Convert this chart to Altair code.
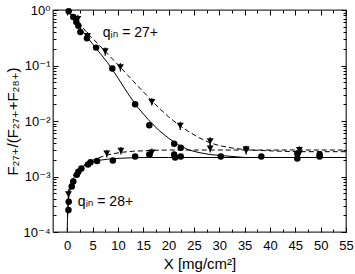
import altair as alt
import pandas as pd

# ---------------- data ----------------
# q_in = 27+ : filled circles (solid-line fit) and triangles (dashed-line fit)
c27_x = [0.3, 1.2, 1.8, 2.2, 2.6, 3.9, 5.7, 8.9, 13.4, 16.2, 21.1, 22.4, 30.3, 45.4, 49.8]
c27_y = [0.95, 0.75, 0.61, 0.52, 0.40, 0.31, 0.21, 0.088, 0.020, 0.0084, 0.0039, 0.0033, 0.0023, 0.0026, 0.0025]

t27_x = [2.1, 4.0, 7.5, 10.5, 16.7, 22.3, 28.2, 35.3, 45.8]
t27_y = [0.69, 0.34, 0.18, 0.093, 0.022, 0.0082, 0.0043, 0.0031, 0.0030]
t27_lo = [0.58, 0.29, 0.15, 0.078, 0.019, 0.0069, 0.0036, 0.0027, 0.0026]
t27_hi = [0.82, 0.40, 0.21, 0.110, 0.026, 0.0097, 0.0051, 0.0036, 0.0035]

# q_in = 28+
c28_x = [0.25, 0.3, 0.9, 1.2, 1.9, 2.2, 2.8, 4.1, 4.6, 5.9, 9.0, 13.4, 16.2, 21.1, 21.3, 22.4, 38.3, 45.4, 49.8]
c28_y = [2.5e-4, 3.5e-4, 6.6e-4, 8.1e-4, 1.07e-3, 1.22e-3, 1.4e-3, 1.65e-3, 1.8e-3, 1.9e-3,
         1.95e-3, 2.3e-3, 2.5e-3, 2.5e-3, 2.2e-3, 2.3e-3, 2.3e-3, 2.1e-3, 2.3e-3]

t28_x = [0.25, 7.8, 10.6, 16.7, 28.2, 35.3, 45.8]
t28_y = [4.8e-4, 2.6e-3, 2.9e-3, 2.7e-3, 3.2e-3, 2.9e-3, 2.6e-3]
t28_lo = [4.0e-4, 2.2e-3, 2.5e-3, 2.3e-3, 2.7e-3, 2.5e-3, 2.2e-3]
t28_hi = [5.8e-4, 3.0e-3, 3.4e-3, 3.2e-3, 3.8e-3, 3.4e-3, 3.1e-3]

# fit curves
s27_x = [0, 1, 2, 3, 4, 5, 6.5, 8, 10, 12, 14, 16, 18, 20, 22, 24, 26, 28, 30, 35, 40, 55]
s27_y = [1.0, 0.76, 0.56, 0.42, 0.32, 0.245, 0.165, 0.112, 0.060, 0.031, 0.0172, 0.0106, 0.0069,
         0.0049, 0.0037, 0.0030, 0.0027, 0.0025, 0.0024, 0.0022, 0.0022, 0.0022]

d27_x = [0, 2, 4, 6, 8, 10, 12, 14, 16, 18, 20, 22, 24, 26, 28, 30, 33, 36, 40, 45, 55]
d27_y = [1.0, 0.64, 0.38, 0.25, 0.16, 0.104, 0.066, 0.042, 0.027, 0.0175, 0.0119, 0.0085, 0.0064,
         0.0050, 0.0041, 0.0036, 0.0032, 0.0030, 0.0029, 0.0028, 0.0028]

s28_x = [0.0, 0.05, 0.1, 0.2, 0.4, 0.7, 1.0, 1.5, 2.0, 2.5, 3.0, 4.0, 5.0, 6.5, 8.0, 10, 13, 16, 20, 55]
s28_y = [1.0e-4, 1.6e-4, 2.4e-4, 3.6e-4, 4.9e-4, 6.5e-4, 8.0e-4, 1.05e-3, 1.25e-3, 1.4e-3, 1.5e-3,
         1.7e-3, 1.83e-3, 1.97e-3, 2.05e-3, 2.12e-3, 2.18e-3, 2.2e-3, 2.2e-3, 2.2e-3]

d28_x = [0.1, 0.25, 0.6, 1.0, 1.6, 2.5, 4.0, 6.0, 8.0, 10.5, 13, 16.5, 20, 25, 55]
d28_y = [2.0e-4, 4.8e-4, 7.5e-4, 9.5e-4, 1.18e-3, 1.45e-3, 1.78e-3, 2.15e-3, 2.45e-3, 2.72e-3,
         2.85e-3, 2.95e-3, 3.0e-3, 3.0e-3, 3.0e-3]

ann_x = [7.0, 2.1]
ann_y = [0.39, 3.5e-4]
ann_t = ["qᵢₙ = 27+", "qᵢₙ = 28+"]

x_major = [0, 5, 10, 15, 20, 25, 30, 35, 40, 45, 50, 55]
x_minor = [2.5, 7.5, 12.5, 17.5, 22.5, 27.5, 32.5, 37.5, 42.5, 47.5, 52.5]
y_major = [1e-4, 1e-3, 1e-2, 1e-1, 1.0]
y_minor = [k * 10.0 ** e for e in (-4, -3, -2, -1) for k in range(2, 10)]

FONT = "Liberation Sans, Arial, DejaVu Sans, sans-serif"
W, H = 293, 222

xs = alt.Scale(domain=[-2.8, 55], nice=False, zero=False)
ys = alt.Scale(type="log", domain=[1e-4, 1], nice=False)


def enc_xy(xa=None, ya=None):
    return dict(x=alt.X("x:Q", scale=xs, axis=xa), y=alt.Y("y:Q", scale=ys, axis=ya))


def line(xv, yv, dash=None):
    df = pd.DataFrame({"x": xv, "y": yv})
    kw = dict(color="black", strokeWidth=1)
    if dash:
        kw["strokeDash"] = dash
    return alt.Chart(df).mark_line(**kw).encode(**enc_xy())


def pts(xv, yv, shape, size):
    df = pd.DataFrame({"x": xv, "y": yv})
    return alt.Chart(df).mark_point(shape=shape, size=size, filled=True, color="black", opacity=1).encode(**enc_xy())


def errs(xv, lo, hi):
    df = pd.DataFrame({"x": xv, "y": lo, "y2": hi})
    return alt.Chart(df).mark_rule(color="black", strokeWidth=1.2).encode(
        x=alt.X("x:Q", scale=xs, axis=None), y=alt.Y("y:Q", scale=ys, axis=None), y2="y2:Q")


lbl_expr = ("'10' + (datum.value >= 0.5 ? '⁰' : datum.value >= 0.05 ? '⁻¹' : "
            "datum.value >= 0.005 ? '⁻²' : datum.value >= 0.0005 ? '⁻³' : '⁻⁴')")

dummy = pd.DataFrame({"x": [10], "y": [0.01]})


def axis_layer(xa, ya):
    return alt.Chart(dummy).mark_point(opacity=0).encode(**enc_xy(xa, ya))


common = dict(domain=False, grid=False, tickColor="black", tickWidth=1)

ax_main = axis_layer(
    alt.Axis(orient="bottom", values=x_major, offset=-5, tickSize=5, labelFontSize=13, labelFont=FONT,
             labelColor="black", labelPadding=7, labelFlush=False, labelOverlap=False,
             title="X [mg/cm²]", titleFont=FONT, titleFontSize=15, titleFontWeight="normal",
             titleColor="black", titlePadding=4, **common),
    alt.Axis(orient="left", values=y_major, offset=-5, tickSize=5, labelFontSize=13, labelFont=FONT,
             labelColor="black", labelPadding=3, labelOverlap=False, labelExpr=lbl_expr,
             title="F₂₇₊/(F₂₇₊+F₂₈₊)", titleFont=FONT, titleFontSize=15, titleFontWeight="normal",
             titleColor="black", titlePadding=3, **common),
)
ax_mirror = axis_layer(
    alt.Axis(orient="top", values=x_major, offset=-5, tickSize=5, labels=False, title=None, **common),
    alt.Axis(orient="right", values=y_major, offset=-5, tickSize=5, labels=False, title=None, **common),
)
ax_minor = axis_layer(
    alt.Axis(orient="bottom", values=x_minor, offset=-3, tickSize=3, labels=False, title=None, **common),
    alt.Axis(orient="left", values=y_minor, offset=-3, tickSize=3, labels=False, title=None, **common),
)
ax_minor2 = axis_layer(
    alt.Axis(orient="top", values=x_minor, offset=-3, tickSize=3, labels=False, title=None, **common),
    alt.Axis(orient="right", values=y_minor, offset=-3, tickSize=3, labels=False, title=None, **common),
)

ann = alt.Chart(pd.DataFrame({"x": ann_x, "y": ann_y, "t": ann_t})).mark_text(
    align="left", baseline="middle", fontSize=14, font=FONT, color="black").encode(text="t:N", **enc_xy())

chart = alt.layer(
    line(s27_x, s27_y),
    line(d27_x, d27_y, [5, 3]),
    line(s28_x, s28_y),
    line(d28_x, d28_y, [5, 3]),
    errs(t27_x, t27_lo, t27_hi),
    errs(t28_x, t28_lo, t28_hi),
    pts(c27_x, c27_y, "circle", 42),
    pts(c28_x, c28_y, "circle", 42),
    pts(t27_x, t27_y, "triangle-down", 48),
    pts(t28_x, t28_y, "triangle-down", 48),
    ann,
    ax_main, ax_mirror, ax_minor, ax_minor2,
).resolve_axis(x="independent", y="independent").properties(
    width=W, height=H,
    autosize=alt.AutoSizeParams(type="none"),
    padding={"left": 53, "top": 10, "right": 9, "bottom": 42},
).configure_view(stroke="#333333", strokeWidth=1.3)

chart.save("out.html", embed_options={"renderer": "svg", "actions": False})
